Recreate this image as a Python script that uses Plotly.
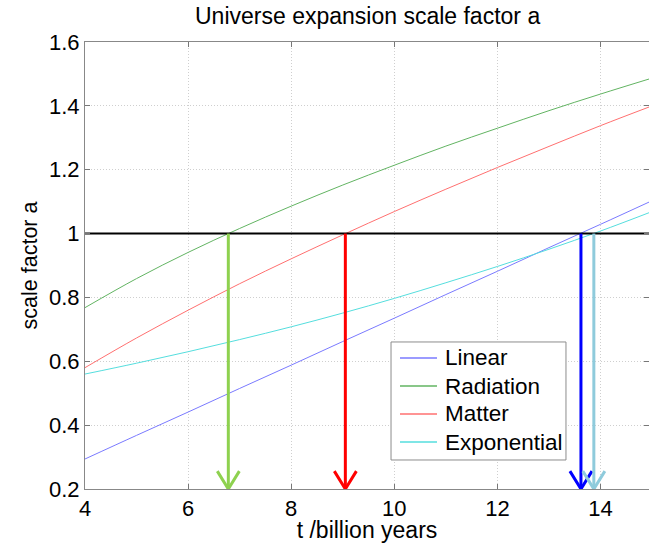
import plotly.graph_objects as go

# ---- data ----
t_values = [4, 5, 6, 7, 8, 9, 10, 11, 12, 13, 14, 15]
linear_a = [0.294, 0.368, 0.441, 0.515, 0.588, 0.662, 0.735, 0.809, 0.882, 0.956, 1.029, 1.103]
radiation_a = [0.768, 0.859, 0.941, 1.016, 1.086, 1.152, 1.214, 1.274, 1.330, 1.385, 1.437, 1.487]
matter_a = [0.580, 0.673, 0.760, 0.843, 0.921, 0.996, 1.069, 1.139, 1.207, 1.273, 1.338, 1.400]
exponential_a = [0.560, 0.594, 0.630, 0.668, 0.708, 0.751, 0.797, 0.846, 0.897, 0.951, 1.008, 1.069]

series_names = ["Linear", "Radiation", "Matter", "Exponential"]
series_values = [linear_a, radiation_a, matter_a, exponential_a]
series_colors = ["#7a7aff", "#62b462", "#ff7070", "#55dede"]

arrow_t = [6.78, 9.05, 13.62, 13.87]           # age where a = 1 for each model
arrow_colors = ["#8ed14f", "#ff0000", "#0000ff", "#8fcbdc"]
a_today = 1.0
x_ticks = [4, 6, 8, 10, 12, 14]
y_ticks = [0.2, 0.4, 0.6, 0.8, 1.0, 1.2, 1.4, 1.6]
y_tick_labels = ["0.2", "0.4", "0.6", "0.8", "1", "1.2", "1.4", "1.6"]

X_RANGE = [4, 14.94]
Y_RANGE = [0.2, 1.6]

fig = go.Figure()

for name, vals, col in zip(series_names, series_values, series_colors):
    fig.add_trace(go.Scatter(x=t_values, y=vals, mode="lines", name=name, showlegend=False,
                             line=dict(color=col, width=1, shape="spline")))

# horizontal line a = 1
fig.add_trace(go.Scatter(x=[X_RANGE[0], X_RANGE[1]], y=[a_today, a_today], mode="lines",
                         line=dict(color="black", width=2), showlegend=False, hoverinfo="skip"))

# arrows (vertical shaft plus open V head)
head_dx = 0.214
head_dy = 0.056
for xa, col in zip(arrow_t, arrow_colors):
    fig.add_trace(go.Scatter(
        x=[xa, xa, None, xa - head_dx, xa, xa + head_dx],
        y=[a_today, Y_RANGE[0], None, Y_RANGE[0] + head_dy, Y_RANGE[0], Y_RANGE[0] + head_dy],
        mode="lines", line=dict(color=col, width=3), showlegend=False, hoverinfo="skip",
        cliponaxis=False))

font_family = "Liberation Sans, Arial, sans-serif"

# ---- legend drawn as box + sample lines + text (paper coordinates) ----
LEG_BOX = dict(x0=0.5426, x1=0.8528, y0=0.0649, y1=0.3289)
LEG_ROWS = [0.2931, 0.2304, 0.1678, 0.1051]
LEG_LINE_X = (0.5585, 0.6241)
LEG_TEXT_X = 0.6348

shapes = [dict(type="rect", xref="paper", yref="paper", **LEG_BOX,
               line=dict(color="#8c8c8c", width=1), fillcolor="white", layer="above")]
annotations = [dict(text="Universe expansion scale factor a", xref="paper", yref="paper",
                    x=0.5, y=1.0246, xanchor="center", yanchor="bottom", showarrow=False,
                    font=dict(size=23))]
for name, col, ry in zip(series_names, series_colors, LEG_ROWS):
    shapes.append(dict(type="line", xref="paper", yref="paper", x0=LEG_LINE_X[0], x1=LEG_LINE_X[1],
                       y0=ry, y1=ry, line=dict(color=col, width=1.5), layer="above"))
    annotations.append(dict(text=name, xref="paper", yref="paper", x=LEG_TEXT_X, y=ry,
                            xanchor="left", yanchor="middle", showarrow=False,
                            font=dict(size=22.5)))

fig.update_layout(
    width=649, height=543,
    margin=dict(l=85, r=0, t=42, b=54, pad=0),
    paper_bgcolor="white", plot_bgcolor="white",
    font=dict(family=font_family, color="black", size=23),
    showlegend=False,
    shapes=shapes,
    annotations=annotations,
)

fig.update_xaxes(range=X_RANGE, tickvals=x_ticks, ticks="inside", ticklen=5, tickcolor="#777777",
                 showline=True, linecolor="#888888", linewidth=1, mirror="ticks",
                 showgrid=True, gridcolor="#cfcfcf", griddash="1px,2px", gridwidth=1,
                 zeroline=False, tickfont=dict(size=22),
                 title=dict(text="t /billion years", font=dict(size=23), standoff=3))
fig.update_yaxes(range=Y_RANGE, tickvals=y_ticks, ticktext=y_tick_labels, ticks="inside", ticklen=5,
                 tickcolor="#777777",
                 showline=True, linecolor="#888888", linewidth=1, mirror="ticks",
                 showgrid=True, gridcolor="#cfcfcf", griddash="1px,2px", gridwidth=1,
                 zeroline=False, tickfont=dict(size=22),
                 title=dict(text="scale factor a", font=dict(size=21.5), standoff=5))

fig.write_html("out.html",
               config={"displayModeBar": False},
               post_script="document.documentElement.style.margin='0';document.body.style.margin='0';"
                           "document.documentElement.style.overflow='hidden';document.body.style.overflow='hidden';")
